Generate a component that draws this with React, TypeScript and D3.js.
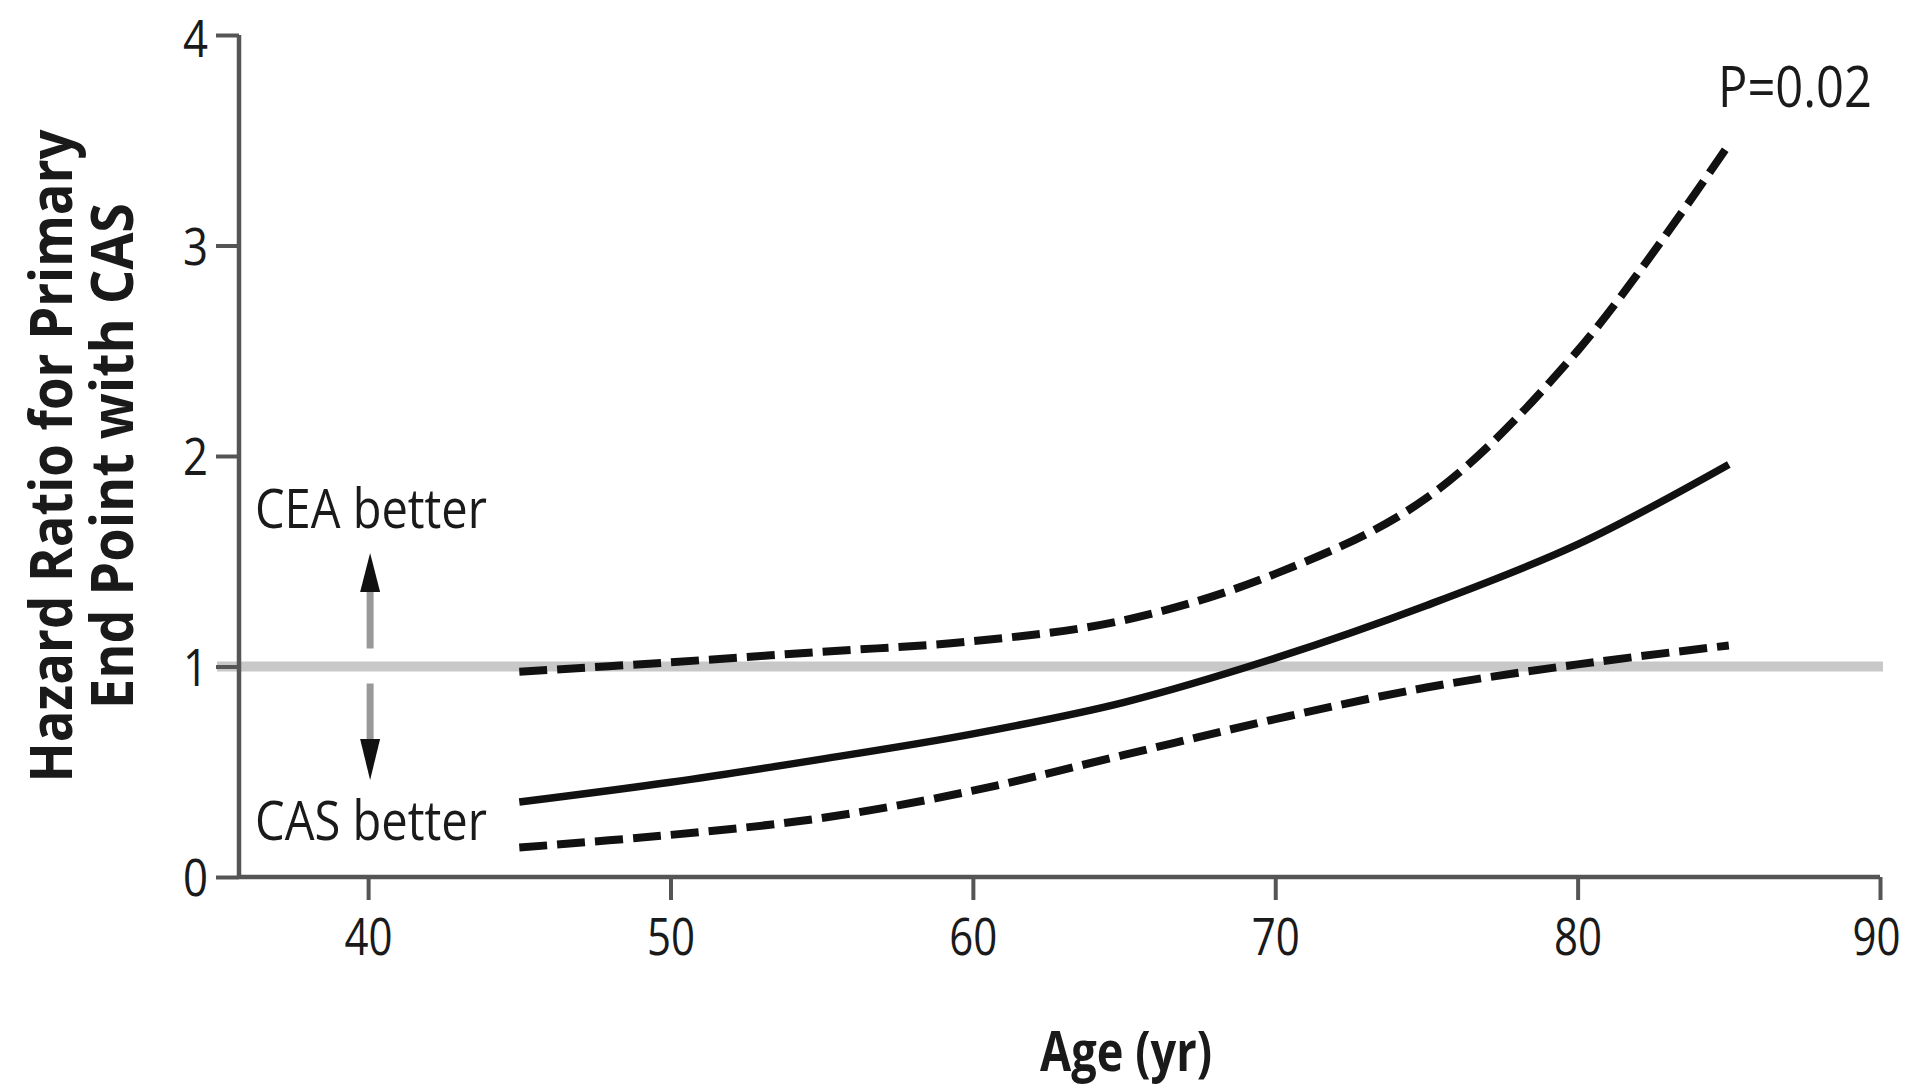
import React, { useEffect, useRef } from 'react';
import * as d3 from 'd3';

const ages = [45, 50, 55, 60, 65, 70, 75, 80, 85];
// hazard ratio estimate and 95% CI
const hrEstimate = [0.356, 0.45, 0.56, 0.68, 0.83, 1.04, 1.29, 1.58, 1.96];
const hrUpper = [0.975, 1.02, 1.07, 1.12, 1.22, 1.44, 1.8, 2.5, 3.48];
const hrLower = [0.14, 0.2, 0.28, 0.41, 0.58, 0.75, 0.9, 1.01, 1.1];

const xTicks = [40, 50, 60, 70, 80, 90];
const yTicks = [0, 1, 2, 3, 4];

const FONT = '"Open Sans", sans-serif';

export default function App(): JSX.Element {
  const width = 1911;
  const height = 1089;

  const axisLeftRef = useRef<SVGGElement>(null);
  const axisBottomRef = useRef<SVGGElement>(null);

  const xScale = d3.scaleLinear().domain([35.73, 90]).range([239, 1880]);
  const yScale = d3.scaleLinear().domain([0, 4]).range([877, 35]);

  const line = d3
    .line<number>()
    .x((_, i) => xScale(ages[i]))
    .y((d) => yScale(d))
    .curve(d3.curveCatmullRom.alpha(0.5));

  useEffect(() => {
    const left = d3.select(axisLeftRef.current);
    const bottom = d3.select(axisBottomRef.current);
    left.selectAll('*').remove();
    bottom.selectAll('*').remove();

    left
      .attr('transform', `translate(${xScale.range()[0]},0)`)
      .call(
        d3.axisLeft(yScale).tickValues(yTicks).tickFormat(d3.format('d')).tickSize(23).tickPadding(8).tickSizeOuter(0)
      );
    bottom
      .attr('transform', `translate(0,${yScale(0)})`)
      .call(
        d3.axisBottom(xScale).tickValues(xTicks).tickFormat(d3.format('d')).tickSize(23).tickPadding(18).tickSizeOuter(0)
      );

    [left, bottom].forEach((g) => {
      g.select('.domain').attr('stroke', '#555').attr('stroke-width', 4.5);
      g.selectAll('.tick line').attr('stroke', '#555').attr('stroke-width', 4);
      g.selectAll('.tick text')
        .attr('font-family', FONT)
        .attr('font-size', 52)
        .attr('fill', '#1a1a1a')
        .attr('lengthAdjust', 'spacingAndGlyphs')
        .attr('textLength', (d: any) => (String(d).length > 1 ? 48 : 25));
    });
    // keep the end labels inside the picture
    left.selectAll('.tick text').attr('dy', (d: any) => (d === 4 ? '0.42em' : '0.36em'));
    bottom.selectAll('.tick text').attr('dy', '0.71em').attr('dx', (d: any) => (d === 90 ? -4 : 0));
    left.select('.domain').attr('d', `M0,${yScale(0)}V${yScale(4)}`);
    bottom.select('.domain').attr('d', `M${xScale.range()[0]},0H${xScale.range()[1]}`);
  }, []);

  const arrowX = xScale(40) + 2;
  const refY = yScale(1);

  return (
    <svg width={width} height={height} style={{ position: 'absolute', left: 0, top: 0 }}>
      {/* reference line at HR = 1 */}
      <line x1={217} x2={1883} y1={refY} y2={refY} stroke="#c8c8c8" strokeWidth={10} />

      <g ref={axisLeftRef} />
      <g ref={axisBottomRef} />

      {/* arrows */}
      <line x1={arrowX} x2={arrowX} y1={refY - 18} y2={590} stroke="#999" strokeWidth={7} />
      <path d={`M${arrowX},553L${arrowX - 10},592L${arrowX + 10},592Z`} fill="#111" />
      <line x1={arrowX} x2={arrowX} y1={refY + 17} y2={740} stroke="#999" strokeWidth={7} />
      <path d={`M${arrowX},780L${arrowX - 10},739L${arrowX + 10},739Z`} fill="#111" />

      <text x={255} y={528} fontFamily={FONT} fontSize={54} fill="#1a1a1a" textLength={232} lengthAdjust="spacingAndGlyphs">
        CEA better
      </text>
      <text x={255} y={840} fontFamily={FONT} fontSize={54} fill="#1a1a1a" textLength={232} lengthAdjust="spacingAndGlyphs">
        CAS better
      </text>

      {/* curves */}
      <path d={line(hrUpper) || ''} fill="none" stroke="#111" strokeWidth={8} strokeDasharray="28 10" />
      <path d={line(hrLower) || ''} fill="none" stroke="#111" strokeWidth={8} strokeDasharray="28 10" />
      <path d={line(hrEstimate) || ''} fill="none" stroke="#111" strokeWidth={7.5} />

      <text x={1718} y={107} fontFamily={FONT} fontSize={56} fill="#1a1a1a" textLength={154} lengthAdjust="spacingAndGlyphs">
        P=0.02
      </text>

      {/* axis titles */}
      <text x={1126} y={1071} textAnchor="middle" fontFamily={FONT} fontWeight="bold" fontSize={56} fill="#1a1a1a" textLength={172} lengthAdjust="spacingAndGlyphs">
        Age (yr)
      </text>
      <g transform="translate(0,456) rotate(-90)">
        <text x={0} y={72} textAnchor="middle" fontFamily={FONT} fontWeight="bold" fontSize={59} fill="#1a1a1a" textLength={653} lengthAdjust="spacingAndGlyphs">
          Hazard Ratio for Primary
        </text>
        <text x={0} y={133} textAnchor="middle" fontFamily={FONT} fontWeight="bold" fontSize={59} fill="#1a1a1a" textLength={506} lengthAdjust="spacingAndGlyphs">
          End Point with CAS
        </text>
      </g>
    </svg>
  );
}
